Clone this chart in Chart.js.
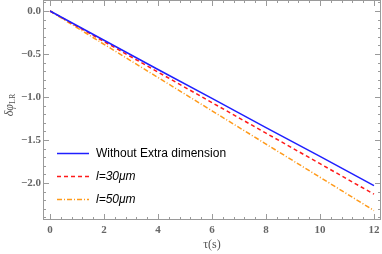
<!DOCTYPE html>
<html>
<head>
<meta charset="utf-8">
<script src="https://cdn.jsdelivr.net/npm/chart.js@4.4.1/dist/chart.umd.min.js"></script>
<style>
  html, body { margin: 0; padding: 0; background: #fff; }
  #wrap { width: 382px; height: 254px; position: relative; }
</style>
</head>
<body>
<div id="wrap"><canvas id="myChart"></canvas></div>
<script>
// data
var tau = [0, 2, 4, 6, 8, 10, 12];
var noExtra = [0, -0.34, -0.68, -1.015, -1.355, -1.69, -2.03];
var l30 = [0, -0.355, -0.71, -1.065, -1.42, -1.775, -2.13];
var l50 = [0, -0.387, -0.773, -1.16, -1.547, -1.933, -2.32];
var xTicks = [0, 2, 4, 6, 8, 10, 12];
var yTicks = [-2.0, -1.5, -1.0, -0.5, 0.0];
var seriesNames = ['Without Extra dimension', 'l=30\u03bcm', 'l=50\u03bcm'];

function pts(ys) {
    return tau.map(function(t, i) { return { x: t, y: ys[i] }; });
}

var frameColor = '#9a9a9a';

// frame, inward ticks, axis titles and inset legend
var framePlugin = {
    id: 'frame',
    afterDraw: function(chart) {
        var ctx = chart.ctx;
        var a = chart.chartArea;
        var xs = chart.scales.x, ys = chart.scales.y;
        ctx.save();
        ctx.strokeStyle = frameColor;
        ctx.lineWidth = 1;
        ctx.strokeRect(a.left + 0.5, a.top + 0.5, a.right - a.left - 1, a.bottom - a.top - 1);

        // x ticks
        for (var v = -0.4; v <= 12.4; v += 0.4) {
            var vv = Math.round(v * 10) / 10;
            var px = Math.round(xs.getPixelForValue(vv)) + 0.5;
            if (px <= a.left + 1 || px >= a.right - 1) continue;
            var major = Math.abs(vv / 2 - Math.round(vv / 2)) < 1e-6;
            var len = major ? 6 : 3;
            ctx.beginPath();
            ctx.moveTo(px, a.bottom); ctx.lineTo(px, a.bottom - len);
            ctx.moveTo(px, a.top); ctx.lineTo(px, a.top + len);
            ctx.stroke();
        }
        // y ticks
        for (var k = -25; k <= 2; k++) {
            var yv = k / 10;
            var py = Math.round(ys.getPixelForValue(yv)) + 0.5;
            if (py <= a.top + 1 || py >= a.bottom - 1) continue;
            var maj = (k % 5 === 0);
            var l = maj ? 6 : 3;
            ctx.beginPath();
            ctx.moveTo(a.left, py); ctx.lineTo(a.left + l, py);
            ctx.moveTo(a.right, py); ctx.lineTo(a.right - l, py);
            ctx.stroke();
        }

        // axis titles
        ctx.fillStyle = '#555';
        ctx.font = '12px "Liberation Serif", serif';
        ctx.textAlign = 'center';
        ctx.textBaseline = 'middle';
        ctx.fillText('\u03c4(s)', xs.getPixelForValue(6), 245);
        ctx.save();
        ctx.translate(10, 106);
        ctx.rotate(-Math.PI / 2);
        ctx.font = 'italic 12px "Liberation Serif", serif';
        ctx.textAlign = 'right';
        ctx.fillText('\u03b4\u03c6', 2, 0);
        ctx.font = '8px "Liberation Serif", serif';
        ctx.textAlign = 'left';
        ctx.fillText('LR', 2, 3);
        ctx.restore();

        // legend
        var rowY = [153, 176, 199];
        chart.data.datasets.forEach(function(ds, i) {
            var y = rowY[i] + 0.5;
            ctx.strokeStyle = ds.borderColor;
            ctx.lineWidth = ds.borderWidth;
            ctx.setLineDash(ds.borderDash || []);
            ctx.beginPath();
            ctx.moveTo(57, y); ctx.lineTo(89, y);
            ctx.stroke();
            ctx.setLineDash([]);
            ctx.fillStyle = '#000';
            ctx.textAlign = 'left';
            ctx.textBaseline = 'middle';
            ctx.font = (i === 0 ? '' : 'italic ') + '12px "Liberation Sans", Arial, sans-serif';
            ctx.fillText(ds.label, 96, y);
        });
        ctx.restore();
    }
};

var ctx = document.getElementById('myChart').getContext('2d');
var myChart = new Chart(ctx, {
    type: 'line',
    data: {
        datasets: [{
            label: seriesNames[0],
            data: pts(noExtra),
            borderColor: '#1f1fff',
            borderWidth: 1.5,
            pointRadius: 0,
            fill: false
        }, {
            label: seriesNames[1],
            data: pts(l30),
            borderColor: '#ff1a1a',
            borderWidth: 1.5,
            borderDash: [4, 3],
            pointRadius: 0,
            fill: false
        }, {
            label: seriesNames[2],
            data: pts(l50),
            borderColor: '#ff9a1a',
            borderWidth: 1.5,
            borderDash: [5, 2, 1, 2],
            pointRadius: 0,
            fill: false
        }]
    },
    options: {
        responsive: true,
        maintainAspectRatio: false,
        animation: false,
        layout: { padding: { top: 0, right: 1, left: 0, bottom: 0 } },
        plugins: {
            legend: { display: false },
            tooltip: { enabled: false }
        },
        scales: {
            x: {
                type: 'linear',
                min: -0.26,
                max: 12.26,
                grid: { display: false, drawTicks: false },
                border: { display: false },
                afterBuildTicks: function(scale) {
                    scale.ticks = xTicks.map(function(v) { return { value: v }; });
                },
                afterFit: function(scale) {
                    scale.height = 34;
                    scale.paddingLeft = 0;
                    scale.paddingRight = 0;
                },
                ticks: {
                    padding: 4,
                    color: '#666',
                    font: { family: '"Liberation Serif", serif', size: 11, weight: 'bold' },
                    maxRotation: 0,
                    callback: function(v) { return String(v); }
                }
            },
            y: {
                type: 'linear',
                min: -2.43,
                max: 0.128,
                grid: { display: false, drawTicks: false },
                border: { display: false },
                afterBuildTicks: function(scale) {
                    scale.ticks = yTicks.map(function(v) { return { value: v }; });
                },
                afterFit: function(scale) {
                    scale.width = 43;
                    scale.paddingTop = 0;
                    scale.paddingBottom = 0;
                },
                ticks: {
                    padding: 2,
                    color: '#666',
                    font: { family: '"Liberation Serif", serif', size: 11, weight: 'bold' },
                    callback: function(v) {
                        if (Math.abs(v) < 1e-9) return '0.0';
                        return '\u2212' + Math.abs(v).toFixed(1);
                    }
                }
            }
        }
    },
    plugins: [framePlugin]
});
</script>
</body>
</html>
